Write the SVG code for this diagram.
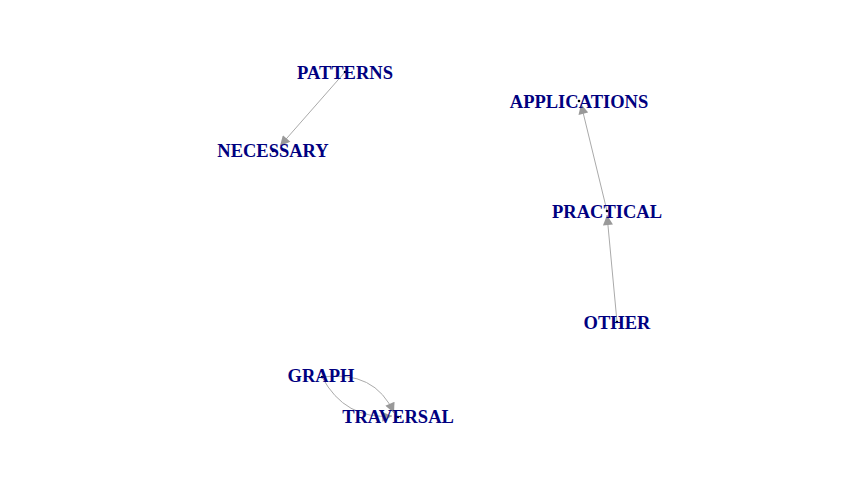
<svg xmlns="http://www.w3.org/2000/svg" width="864" height="504" viewBox="0 0 864 504">
<style>
.lbl{font-family:"Liberation Serif","Times New Roman",serif;font-weight:bold;font-size:18.5px;fill:#000080;text-anchor:middle;dominant-baseline:central}
.e{fill:none;stroke:#aaaaaa;stroke-width:1}
.dot{fill:#000000}
</style>
<defs>
<marker id="ah" viewBox="0 0 10 10" refX="10" refY="5" markerWidth="12" markerHeight="10" markerUnits="userSpaceOnUse" orient="auto">
<path d="M0,0 L10,5 L0,10 Z" fill="#999999"/>
</marker>
</defs>
<rect width="864" height="504" fill="#ffffff"/>
<g id="edges">
<path class="e" d="M345,72 L280,146" marker-end="url(#ah)"/>
<path class="e" d="M607,211 L581,104" marker-end="url(#ah)"/>
<path class="e" d="M617,322 L607,215" marker-end="url(#ah)"/>
<path class="e" d="M322,377 Q375,370 394,413" marker-end="url(#ah)"/>
<path class="e" d="M322,377 Q345,420 392,416" marker-end="url(#ah)"/>
</g>
<g id="node-patterns"><circle class="dot" cx="345" cy="72" r="1.3"/><text class="lbl" x="345" y="73">PATTERNS</text></g>
<g id="node-necessary"><circle class="dot" cx="273" cy="151" r="1.3"/><text class="lbl" x="273" y="151">NECESSARY</text></g>
<g id="node-applications"><circle class="dot" cx="579" cy="101" r="1.3"/><text class="lbl" x="579" y="102">APPLICATIONS</text></g>
<g id="node-practical"><circle class="dot" cx="607" cy="211" r="1.3"/><text class="lbl" x="607" y="212">PRACTICAL</text></g>
<g id="node-other"><circle class="dot" cx="617" cy="322" r="1.3"/><text class="lbl" x="617" y="323">OTHER</text></g>
<g id="node-graph"><circle class="dot" cx="322" cy="377" r="1.3"/><text class="lbl" x="321" y="376">GRAPH</text></g>
<g id="node-traversal"><circle class="dot" cx="398" cy="417" r="1.3"/><text class="lbl" x="398" y="417">TRAVERSAL</text></g>
</svg>
